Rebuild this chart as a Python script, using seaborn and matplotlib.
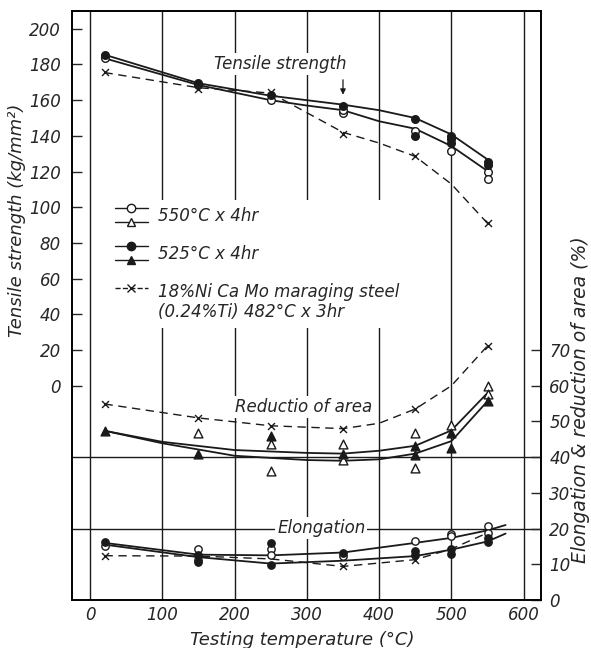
import numpy as np
import pandas as pd
import matplotlib
matplotlib.use("Agg")
import matplotlib.pyplot as plt
import seaborn as sns
from matplotlib.lines import Line2D
from matplotlib.legend_handler import HandlerBase

# ---- data ----
# tensile strength (kg/mm2), left axis
ts_open_t = [20, 150, 250, 350, 350, 450, 500, 550, 550]
ts_open_v = [183.6, 168.5, 160.0, 152.9, 154.7, 142.6, 131.5, 119.9, 115.6]
ts_filled_t = [20, 150, 250, 350, 450, 450, 500, 500, 500, 550, 550]
ts_filled_v = [185.5, 169.8, 162.7, 156.6, 149.5, 140.2, 139.8, 138.0, 136.0, 125.5, 123.6]
ts_ref_t = [20, 150, 250, 350, 450, 550]
ts_ref_v = [175.6, 166.0, 164.5, 140.8, 128.5, 91.4]

ts_line_t = [20, 150, 250, 300, 350, 400, 450, 500, 550]
ts_525_line = [185.5, 169.5, 162.5, 160.0, 157.5, 154.4, 150.0, 140.8, 126.8]
ts_550_line = [183.5, 168.5, 160.0, 157.0, 154.4, 148.2, 144.0, 134.3, 120.3]
ts_ref_line_t = [20, 150, 250, 300, 350, 400, 450, 500, 550]
ts_ref_line = [175.5, 167.0, 164.0, 153.0, 142.0, 136.0, 128.5, 113.0, 91.0]

# reduction of area (%), right axis
ra_open_t = [150, 250, 250, 350, 350, 450, 450, 500, 550, 550]
ra_open_v = [46.8, 43.7, 36.0, 43.6, 39.2, 46.8, 36.9, 49.0, 60.0, 57.7]
ra_filled_t = [20, 150, 250, 350, 450, 450, 500, 500, 550]
ra_filled_v = [47.4, 40.8, 46.0, 40.8, 43.0, 40.6, 46.7, 42.7, 55.7]
ra_ref_t = [20, 150, 250, 350, 450, 550]
ra_ref_v = [54.9, 51.0, 48.6, 48.0, 53.5, 71.2]

ra_line_t = [20, 100, 200, 300, 350, 400, 450, 500, 550]
ra_upper = [47.4, 44.3, 42.0, 41.2, 41.0, 41.8, 43.2, 47.5, 58.0]
ra_lower = [47.4, 43.9, 40.4, 39.2, 39.0, 39.4, 41.0, 44.5, 55.7]
ra_ref_line_t = [20, 150, 250, 350, 400, 450, 500, 550]
ra_ref_line = [54.9, 51.0, 48.8, 48.0, 49.5, 53.5, 60.0, 71.2]

# elongation (%), right axis
el_open_t = [20, 150, 150, 250, 250, 350, 450, 500, 500, 550, 550]
el_open_v = [15.2, 14.3, 11.3, 14.3, 12.7, 12.2, 16.4, 18.6, 17.8, 20.8, 18.8]
el_filled_t = [20, 150, 150, 250, 250, 350, 450, 450, 500, 500, 550, 550]
el_filled_v = [16.2, 12.7, 10.7, 16.0, 9.9, 13.3, 13.6, 12.7, 14.3, 12.9, 17.4, 16.3]
el_ref_t = [20, 350, 450]
el_ref_v = [12.4, 9.4, 11.3]

el_line_t = [20, 150, 250, 350, 450, 500, 550, 575]
el_upper = [16.0, 12.7, 12.5, 13.3, 16.0, 17.4, 19.5, 21.0]
el_lower = [15.5, 12.0, 10.2, 11.0, 12.3, 14.1, 16.4, 18.6]
el_ref_line_t = [20, 150, 250, 350, 450, 500, 550]
el_ref_line = [12.4, 12.3, 11.5, 9.4, 11.3, 14.3, 18.8]

x_ticks = [0, 100, 200, 300, 400, 500, 600]
left_ticks = list(range(0, 201, 20))
right_ticks = list(range(0, 71, 10))

# ---- style ----
sns.set_theme(style="white")
plt.rcParams["font.family"] = ["DejaVu Sans"]
plt.rcParams["font.style"] = "italic"
plt.rcParams["axes.edgecolor"] = "black"
plt.rcParams["axes.linewidth"] = 1.2

fig = plt.figure(figsize=(5.91, 6.48), dpi=100)
ax = fig.add_axes([0.1218, 0.0741, 0.7936, 0.909])
ax2 = ax.twinx()


def curve(axis, x, y, dashed=False):
    sns.lineplot(x=x, y=y, ax=axis, color="k", lw=1.0 if dashed else 1.3,
                 dashes=False, linestyle=(0, (6, 4)) if dashed else "-",
                 estimator=None, sort=False)


def pts(axis, x, y, marker, filled, s):
    if marker == "x":
        sns.scatterplot(x=x, y=y, ax=axis, marker="x", color="k", s=s,
                        linewidth=1.0, zorder=4)
    else:
        sns.scatterplot(x=x, y=y, ax=axis, marker=marker, s=s,
                        facecolor="k" if filled else "white",
                        edgecolor="k", linewidth=1.0, zorder=4)


# tensile strength
curve(ax, ts_line_t, ts_525_line)
curve(ax, ts_line_t, ts_550_line)
curve(ax, ts_ref_line_t, ts_ref_line, dashed=True)
pts(ax, ts_open_t, ts_open_v, "o", False, 30)
pts(ax, ts_filled_t, ts_filled_v, "o", True, 30)
pts(ax, ts_ref_t, ts_ref_v, "x", False, 25)

# reduction of area
curve(ax2, ra_line_t, ra_upper)
curve(ax2, ra_line_t, ra_lower)
curve(ax2, ra_ref_line_t, ra_ref_line, dashed=True)
pts(ax2, ra_open_t, ra_open_v, "^", False, 40)
pts(ax2, ra_filled_t, ra_filled_v, "^", True, 40)
pts(ax2, ra_ref_t, ra_ref_v, "x", False, 25)

# elongation
curve(ax2, el_line_t, el_upper)
curve(ax2, el_line_t, el_lower)
curve(ax2, el_ref_line_t, el_ref_line, dashed=True)
pts(ax2, el_open_t, el_open_v, "o", False, 28)
pts(ax2, el_filled_t, el_filled_v, "o", True, 28)
pts(ax2, el_ref_t, el_ref_v, "x", False, 25)

# ---- axes ----
ax.set_xlim(-25, 624)
ax.set_ylim(-120, 210)
ax2.set_ylim(0, 165)

ax.set_xticks(x_ticks)
ax.tick_params(axis="x", length=0, pad=4, labelsize=12)
ax.grid(axis="x", color="k", lw=1.0)
ax.set_yticks(left_ticks)
ax.tick_params(axis="y", direction="in", length=7, width=1, labelsize=12,
               pad=8)
ax.set_yticks(list(range(-80, 201, 40)), minor=True)
ax.tick_params(axis="y", which="minor", length=0)
ax.grid(axis="y", which="minor", color="k", lw=1.0)
ax.grid(axis="y", which="major", visible=False)
ax2.set_yticks(right_ticks)
ax2.tick_params(axis="y", direction="in", length=7, width=1, labelsize=12,
                pad=6)
ax2.grid(False)

ax.set_xlabel("Testing temperature (°C)", fontsize=13)
ax.xaxis.set_label_coords(0.49, -0.052)
ax.set_ylabel("Tensile strength (kg/mm²)", fontsize=13)
ax.yaxis.set_label_coords(-0.098, 0.645)
ax2.set_ylabel("Elongation & reduction of area (%)", fontsize=13.5)
ax2.yaxis.set_label_coords(1.065, 0.34)

box = dict(facecolor="white", edgecolor="none", pad=1.5)
ax.text(172, 180, "Tensile strength", fontsize=12, va="center", ha="left",
        bbox=box)
ax.annotate("", xy=(350, 161.5), xytext=(350, 173),
            arrowprops=dict(arrowstyle="-|>", color="k", lw=0.9,
                            mutation_scale=8))
ax2.text(200, 54, "Reductio of area", fontsize=12, va="center", ha="left",
         bbox=box)
ax2.text(259, 20.3, "Elongation", fontsize=12, va="center", ha="left",
         bbox=box)


# ---- legend with stacked samples per entry ----
class StackHandler(HandlerBase):
    def __init__(self, shift=0.0):
        super().__init__()
        self.shift = shift

    def create_artists(self, legend, orig_handle, xdescent, ydescent,
                       width, height, fontsize, trans):
        out = []
        n = len(orig_handle)
        for i, h in enumerate(orig_handle):
            y = (-ydescent + height / 2
                 + (0.5 * (n - 1) - i) * height * 1.15
                 + self.shift * height)
            ln = Line2D([-xdescent, -xdescent + width], [y, y], color="k",
                        lw=1.0, linestyle=h.get_linestyle())
            mk = Line2D([-xdescent + width / 2], [y], marker=h.get_marker(),
                        markerfacecolor=h.get_markerfacecolor(),
                        markeredgecolor="k", markersize=h.get_markersize(),
                        linestyle="none")
            for a in (ln, mk):
                a.set_transform(trans)
                out.append(a)
        return out


h550 = (Line2D([], [], marker="o", markerfacecolor="white", markersize=6),
        Line2D([], [], marker="^", markerfacecolor="white", markersize=6))
h525 = (Line2D([], [], marker="o", markerfacecolor="k", markersize=6),
        Line2D([], [], marker="^", markerfacecolor="k", markersize=6))
href = (Line2D([], [], linestyle="--", marker="x", markersize=6),)
leg = ax2.legend([h550, h525, href],
                 ["550°C x 4hr", "525°C x 4hr",
                  "18%Ni Ca Mo maraging steel\n(0.24%Ti) 482°C x 3hr"],
                 handler_map={h550: StackHandler(), h525: StackHandler(),
                              href: StackHandler(shift=1.3)},
                 loc="upper left", bbox_to_anchor=(0.077, 0.679),
                 borderaxespad=0, fontsize=12, frameon=True,
                 handlelength=2.0, handletextpad=0.6, labelspacing=1.2,
                 borderpad=0.4)
leg.get_frame().set_facecolor("white")
leg.get_frame().set_edgecolor("none")
leg.get_frame().set_alpha(1)

fig.savefig("out.png", dpi=100)
